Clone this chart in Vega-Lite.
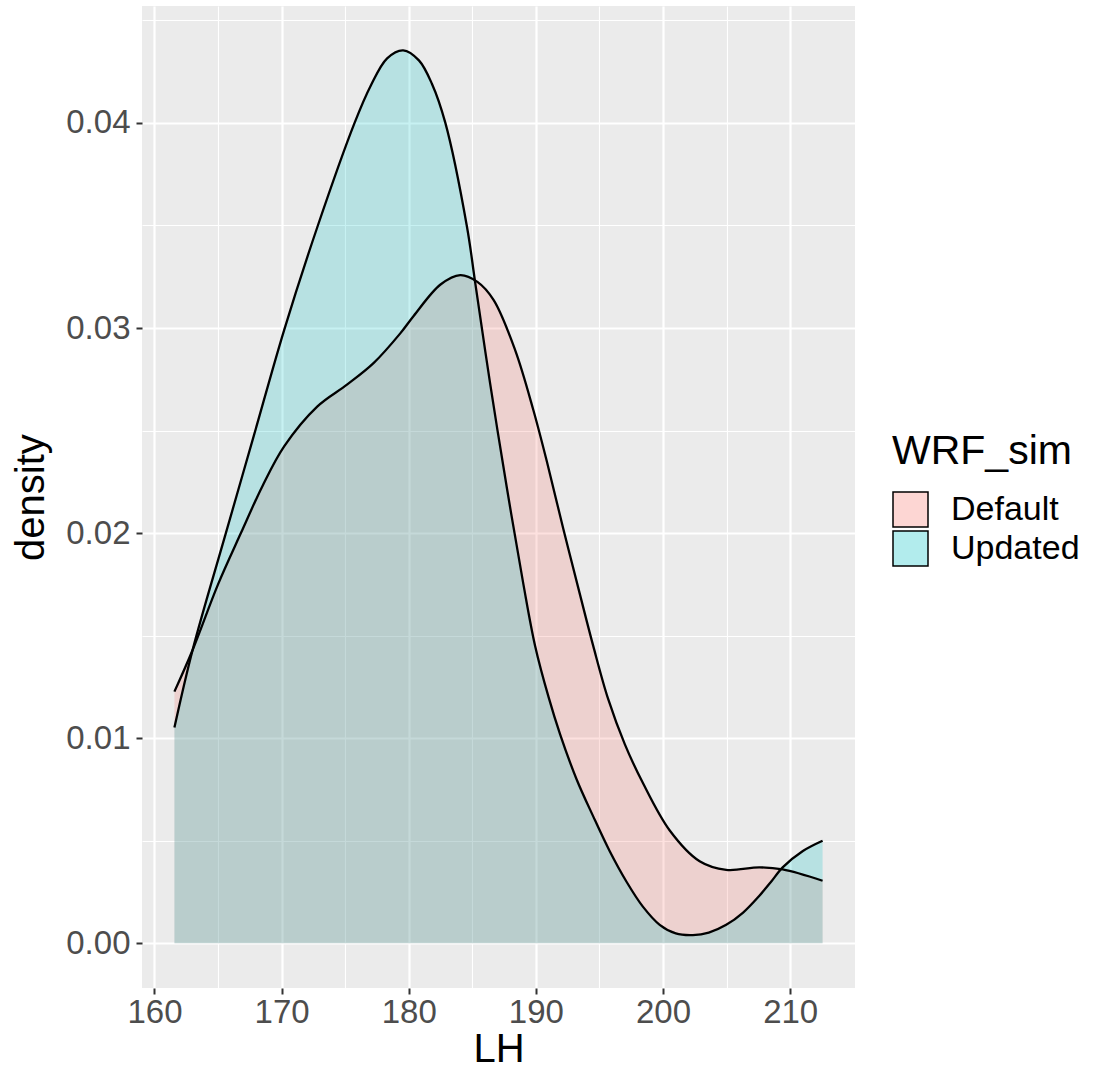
{
  "$schema": "https://vega.github.io/schema/vega-lite/v6.json",
  "width": 713,
  "height": 982,
  "autosize": {"type": "none"},
  "padding": {"left": 142, "top": 6, "right": 245, "bottom": 83},
  "background": "white",
  "config": {"view": {"fill": "#EBEBEB", "stroke": null}, "font": "Liberation Sans"},
  "data": {"values": [
    {"LH": 161.57, "density": 0.01227, "WRF_sim": "Default"},
    {"LH": 163.0, "density": 0.0143, "WRF_sim": "Default"},
    {"LH": 165.0, "density": 0.0175, "WRF_sim": "Default"},
    {"LH": 166.8, "density": 0.0200, "WRF_sim": "Default"},
    {"LH": 168.5, "density": 0.0223, "WRF_sim": "Default"},
    {"LH": 170.2, "density": 0.02423, "WRF_sim": "Default"},
    {"LH": 172.8, "density": 0.02617, "WRF_sim": "Default"},
    {"LH": 175.17, "density": 0.02725, "WRF_sim": "Default"},
    {"LH": 177.25, "density": 0.0283, "WRF_sim": "Default"},
    {"LH": 179.35, "density": 0.02975, "WRF_sim": "Default"},
    {"LH": 180.4, "density": 0.0306, "WRF_sim": "Default"},
    {"LH": 182.5, "density": 0.03212, "WRF_sim": "Default"},
    {"LH": 184.05, "density": 0.03258, "WRF_sim": "Default"},
    {"LH": 185.4, "density": 0.03225, "WRF_sim": "Default"},
    {"LH": 186.67, "density": 0.03137, "WRF_sim": "Default"},
    {"LH": 188.37, "density": 0.02892, "WRF_sim": "Default"},
    {"LH": 189.8, "density": 0.0260, "WRF_sim": "Default"},
    {"LH": 190.86, "density": 0.0235, "WRF_sim": "Default"},
    {"LH": 192.16, "density": 0.0202, "WRF_sim": "Default"},
    {"LH": 193.47, "density": 0.0170, "WRF_sim": "Default"},
    {"LH": 194.51, "density": 0.0145, "WRF_sim": "Default"},
    {"LH": 195.69, "density": 0.0119, "WRF_sim": "Default"},
    {"LH": 197.0, "density": 0.0097, "WRF_sim": "Default"},
    {"LH": 198.43, "density": 0.0078, "WRF_sim": "Default"},
    {"LH": 200.53, "density": 0.0055, "WRF_sim": "Default"},
    {"LH": 202.88, "density": 0.0040, "WRF_sim": "Default"},
    {"LH": 204.97, "density": 0.00358, "WRF_sim": "Default"},
    {"LH": 207.58, "density": 0.0037, "WRF_sim": "Default"},
    {"LH": 209.41, "density": 0.0036, "WRF_sim": "Default"},
    {"LH": 212.55, "density": 0.00305, "WRF_sim": "Default"},
    {"LH": 161.57, "density": 0.01052, "WRF_sim": "Updated"},
    {"LH": 163.0, "density": 0.0143, "WRF_sim": "Updated"},
    {"LH": 165.57, "density": 0.0199, "WRF_sim": "Updated"},
    {"LH": 167.84, "density": 0.0248, "WRF_sim": "Updated"},
    {"LH": 170.2, "density": 0.0299, "WRF_sim": "Updated"},
    {"LH": 172.8, "density": 0.0349, "WRF_sim": "Updated"},
    {"LH": 175.74, "density": 0.0400, "WRF_sim": "Updated"},
    {"LH": 177.0, "density": 0.0418, "WRF_sim": "Updated"},
    {"LH": 178.3, "density": 0.04315, "WRF_sim": "Updated"},
    {"LH": 179.56, "density": 0.04354, "WRF_sim": "Updated"},
    {"LH": 180.8, "density": 0.04305, "WRF_sim": "Updated"},
    {"LH": 181.83, "density": 0.0419, "WRF_sim": "Updated"},
    {"LH": 182.88, "density": 0.0400, "WRF_sim": "Updated"},
    {"LH": 184.58, "density": 0.03494, "WRF_sim": "Updated"},
    {"LH": 185.23, "density": 0.0322, "WRF_sim": "Updated"},
    {"LH": 186.4, "density": 0.0273, "WRF_sim": "Updated"},
    {"LH": 187.72, "density": 0.0222, "WRF_sim": "Updated"},
    {"LH": 189.02, "density": 0.0175, "WRF_sim": "Updated"},
    {"LH": 189.94, "density": 0.0145, "WRF_sim": "Updated"},
    {"LH": 191.0, "density": 0.0120, "WRF_sim": "Updated"},
    {"LH": 191.9, "density": 0.0102, "WRF_sim": "Updated"},
    {"LH": 193.2, "density": 0.0080, "WRF_sim": "Updated"},
    {"LH": 194.5, "density": 0.0062, "WRF_sim": "Updated"},
    {"LH": 195.8, "density": 0.0045, "WRF_sim": "Updated"},
    {"LH": 197.13, "density": 0.0030, "WRF_sim": "Updated"},
    {"LH": 198.4, "density": 0.0018, "WRF_sim": "Updated"},
    {"LH": 199.74, "density": 0.0009, "WRF_sim": "Updated"},
    {"LH": 201.0, "density": 0.00048, "WRF_sim": "Updated"},
    {"LH": 202.35, "density": 0.0004, "WRF_sim": "Updated"},
    {"LH": 203.6, "density": 0.00052, "WRF_sim": "Updated"},
    {"LH": 204.97, "density": 0.0009, "WRF_sim": "Updated"},
    {"LH": 206.3, "density": 0.0015, "WRF_sim": "Updated"},
    {"LH": 207.58, "density": 0.00232, "WRF_sim": "Updated"},
    {"LH": 208.5, "density": 0.0030, "WRF_sim": "Updated"},
    {"LH": 209.41, "density": 0.0037, "WRF_sim": "Updated"},
    {"LH": 211.0, "density": 0.0045, "WRF_sim": "Updated"},
    {"LH": 212.55, "density": 0.0050, "WRF_sim": "Updated"}
  ]},
  "encoding": {
    "x": {
      "field": "LH", "type": "quantitative",
      "scale": {"domain": [159.02, 215.1], "nice": false, "zero": false},
      "axis": {
        "title": "LH",
        "values": [160, 165, 170, 175, 180, 185, 190, 195, 200, 205, 210],
        "format": "d",
        "labelExpr": "datum.value % 10 === 0 ? datum.label : ''",
        "domain": false,
        "grid": true,
        "gridColor": "white",
        "gridWidth": {"condition": {"test": "datum.value % 10 === 0", "value": 2.2}, "value": 1.1},
        "tickColor": "#333333",
        "tickOpacity": {"condition": {"test": "datum.value % 10 === 0", "value": 1}, "value": 0},
        "tickSize": 6,
        "tickWidth": 2,
        "labelFontSize": 33,
        "labelColor": "#4D4D4D",
        "labelPadding": 2,
        "labelFlush": false,
        "labelOverlap": false,
        "titleFontSize": 40,
        "titleFontWeight": "normal",
        "titleColor": "black",
        "titlePadding": 0
      }
    },
    "y": {
      "field": "density", "type": "quantitative", "stack": null,
      "scale": {"domain": [-0.00218, 0.0457], "nice": false, "zero": false},
      "axis": {
        "title": "density",
        "values": [0, 0.005, 0.01, 0.015, 0.02, 0.025, 0.03, 0.035, 0.04, 0.045],
        "format": ".2f",
        "labelExpr": "round(datum.value * 1000) % 10 === 0 ? datum.label : ''",
        "domain": false,
        "grid": true,
        "gridColor": "white",
        "gridWidth": {"condition": {"test": "round(datum.value * 1000) % 10 === 0", "value": 2.2}, "value": 1.1},
        "tickColor": "#333333",
        "tickOpacity": {"condition": {"test": "round(datum.value * 1000) % 10 === 0", "value": 1}, "value": 0},
        "tickSize": 6,
        "tickWidth": 2,
        "labelFontSize": 33,
        "labelColor": "#4D4D4D",
        "labelPadding": 6,
        "labelFlush": false,
        "labelOverlap": false,
        "titleFontSize": 40,
        "titleFontWeight": "normal",
        "titleColor": "black",
        "titlePadding": 14
      }
    }
  },
  "layer": [
    {
      "mark": {"type": "area", "interpolate": "catmull-rom", "fillOpacity": 0.22},
      "encoding": {
        "y2": {"datum": 0},
        "fill": {
          "field": "WRF_sim", "type": "nominal",
          "scale": {"domain": ["Default", "Updated"], "range": ["#F8766D", "#00BFC4"]},
          "legend": {
            "title": "WRF_sim",
            "orient": "none",
            "legendX": 750,
            "legendY": 426,
            "titleFontSize": 41,
            "titleFontWeight": "normal",
            "titleColor": "black",
            "titlePadding": 18,
            "labelFontSize": 34,
            "labelColor": "black",
            "labelOffset": 22,
            "symbolType": "square",
            "symbolSize": 1225,
            "symbolStrokeColor": "black",
            "symbolStrokeWidth": 1.5,
            "symbolOpacity": 1,
            "rowPadding": -4,
            "encode": {"symbols": {"update": {
              "fillOpacity": {"value": 0.3},
              "stroke": {"value": "black"},
              "strokeWidth": {"value": 1.5}
            }}}
          }
        }
      }
    },
    {
      "mark": {"type": "line", "interpolate": "catmull-rom", "color": "black", "strokeWidth": 2.3},
      "encoding": {"detail": {"field": "WRF_sim"}}
    }
  ]
}
